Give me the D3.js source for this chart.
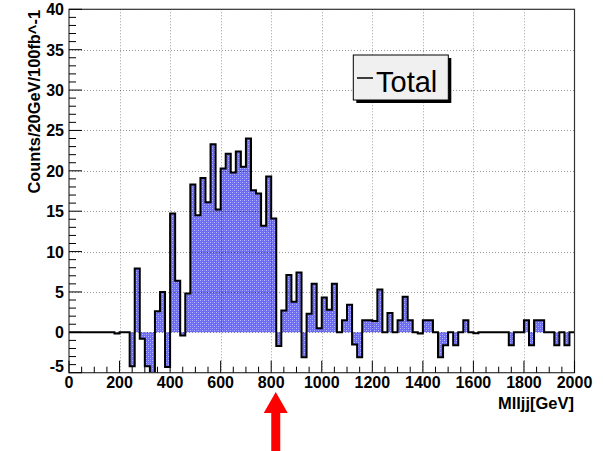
<!DOCTYPE html>
<html>
<head>
<meta charset="utf-8">
<script src="https://cdn.jsdelivr.net/npm/d3@7/dist/d3.min.js"></script>
<style>
  html, body { margin: 0; padding: 0; background: #fff; }
  svg { display: block; font-family: "Liberation Sans", Arial, sans-serif; }
</style>
</head>
<body>
<svg id="chart" width="603" height="451"></svg>
<script>
// Histogram binning: 100 bins of 20 GeV from 0 to 2000 GeV
const binStart = 0;
const binWidth = 20;
const counts = [
  0, 0, 0, 0, 0, 0, 0, 0, 0, -0.15,
  0, 0, -4.2, 7.9, -0.8, -4.2, -5.6, 2.6, 5.0, -4.3,
  14.7, 6.4, -0.4, 4.8, 18.3, 14.5, 19.1, 16.1, 23.3, 15.2,
  20.3, 22.1, 19.8, 22.4, 20.5, 24.0, 17.6, 17.2, 13.2, 19.3,
  14.1, -1.7, 2.7, 7.1, 3.8, 7.4, -3.1, 2.3, 6.0, 0.5,
  4.3, 2.8, 6.0, 0, 1.5, 3.4, -1.5, -3.1, 1.5, 1.5,
  1.4, 5.3, 0, 2.4, 0, 1.5, 4.4, 1.5, 0, -0.15,
  1.5, 1.5, 0, -3.1, -1.6, 0, -1.6, 0, 1.5, 0,
  -0.1, 0, 0, 0, 0, 0, 0, -1.6, 0, 0,
  1.5, -1.6, 1.5, 1.5, 0, 0, -1.6, 0, -1.6, 0
];

const xTicks = [0, 200, 400, 600, 800, 1000, 1200, 1400, 1600, 1800, 2000];
const yTicks = [-5, 0, 5, 10, 15, 20, 25, 30, 35, 40];
const xTitle = "Mlljj[GeV]";
const yTitle = "Counts/20GeV/100fb^-1";
const legendLabel = "Total";
const cutValue = 818; // position of the selection arrow on the mass axis

const svg = d3.select("#chart");
const frame = { left: 69, right: 574.5, top: 9.3, bottom: 372.7 };

const x = d3.scaleLinear().domain([0, 2000]).range([frame.left, frame.right]);
const y = d3.scaleLinear().domain([-5, 40]).range([frame.bottom, frame.top]);

// Dithered blue fill pattern
const defs = svg.append("defs");
const pat = defs.append("pattern")
  .attr("id", "dither").attr("patternUnits", "userSpaceOnUse")
  .attr("width", 4).attr("height", 4);
pat.append("rect").attr("width", 4).attr("height", 4).attr("fill", "#6a6af6");
pat.append("rect").attr("x", 0).attr("y", 0).attr("width", 1).attr("height", 1).attr("fill", "#b8b8ff");
pat.append("rect").attr("x", 2).attr("y", 2).attr("width", 1).attr("height", 1).attr("fill", "#b8b8ff");
pat.append("rect").attr("x", 2).attr("y", 0).attr("width", 1).attr("height", 1).attr("fill", "#8c8cfa");
pat.append("rect").attr("x", 0).attr("y", 2).attr("width", 1).attr("height", 1).attr("fill", "#8c8cfa");

defs.append("clipPath").attr("id", "frameClip")
  .append("rect").attr("x", frame.left).attr("y", frame.top)
  .attr("width", frame.right - frame.left).attr("height", frame.bottom - frame.top);

// Step points for the histogram
const pts = [];
counts.forEach((v, i) => {
  const x0 = binStart + i * binWidth;
  pts.push({ gx: x0, v: v });
  pts.push({ gx: x0 + binWidth, v: v });
});

const plot = svg.append("g").attr("clip-path", "url(#frameClip)");

plot.append("path")
  .datum(pts)
  .attr("fill", "url(#dither)")
  .attr("d", d3.area().x(d => x(d.gx)).y0(y(0)).y1(d => y(d.v)));

// Grid (dotted), drawn over the fill
const grid = svg.append("g").attr("stroke", "#000").attr("stroke-opacity", 0.4)
  .attr("stroke-width", 1).attr("stroke-dasharray", "1,2");
grid.selectAll("line.gx").data(xTicks.slice(1, -1)).join("line")
  .attr("class", "gx")
  .attr("x1", d => Math.round(x(d)) + 0.5).attr("x2", d => Math.round(x(d)) + 0.5)
  .attr("y1", frame.top).attr("y2", frame.bottom);
grid.selectAll("line.gy").data(yTicks.slice(1)).join("line")
  .attr("class", "gy")
  .attr("x1", frame.left).attr("x2", frame.right)
  .attr("y1", d => Math.round(y(d)) + 0.5).attr("y2", d => Math.round(y(d)) + 0.5);

plot.append("path")
  .datum(pts)
  .attr("fill", "none").attr("stroke", "#000").attr("stroke-width", 2)
  .attr("stroke-linejoin", "miter")
  .attr("d", d3.line().x(d => x(d.gx)).y(d => y(d.v)));

// Frame
svg.append("rect")
  .attr("x", frame.left).attr("y", frame.top)
  .attr("width", frame.right - frame.left).attr("height", frame.bottom - frame.top)
  .attr("fill", "none").attr("stroke", "#333").attr("stroke-width", 1.2);

// Y axis ticks
const yAxis = svg.append("g").attr("stroke", "#000").attr("stroke-width", 1);
d3.range(-5, 40.001, 1).forEach(v => {
  const major = v % 5 === 0;
  yAxis.append("line")
    .attr("x1", frame.left).attr("x2", frame.left + (major ? 13 : 7))
    .attr("y1", y(v)).attr("y2", y(v));
});
// X axis ticks
const xAxis = svg.append("g").attr("stroke", "#000").attr("stroke-width", 1);
d3.range(0, 2000.001, 50).forEach(v => {
  const major = v % 200 === 0;
  xAxis.append("line")
    .attr("x1", x(v)).attr("x2", x(v))
    .attr("y1", frame.bottom).attr("y2", frame.bottom - (major ? 12 : 6));
});

// Tick labels
svg.append("g").selectAll("text").data(yTicks).join("text")
  .attr("x", 64).attr("y", d => y(d) + (d === -5 ? -1 : 6))
  .attr("text-anchor", "end").attr("font-size", 16).attr("font-weight", "bold")
  .text(d => d);
svg.append("g").selectAll("text").data(xTicks).join("text")
  .attr("x", d => x(d)).attr("y", 388)
  .attr("text-anchor", "middle").attr("font-size", 16).attr("font-weight", "bold")
  .text(d => d);

// Axis titles
svg.append("text")
  .attr("x", 574).attr("y", 409)
  .attr("text-anchor", "end").attr("font-size", 16.5).attr("font-weight", "bold")
  .text(xTitle);
svg.append("text")
  .attr("transform", "translate(40,10) rotate(-90)")
  .attr("text-anchor", "end").attr("font-size", 16.4).attr("font-weight", "bold")
  .text(yTitle);

// Legend box with shadow
svg.append("rect").attr("x", 356.3).attr("y", 58).attr("width", 95).attr("height", 45).attr("fill", "#000");
svg.append("rect").attr("x", 353.3).attr("y", 55).attr("width", 95).attr("height", 45)
  .attr("fill", "#f0f0f0").attr("stroke", "#000").attr("stroke-width", 1);
svg.append("line").attr("x1", 357).attr("x2", 373).attr("y1", 78).attr("y2", 78)
  .attr("stroke", "#000").attr("stroke-width", 1.5);
svg.append("text").attr("x", 376).attr("y", 92).attr("font-size", 29).text(legendLabel);

// Red arrow pointing at the cut value
const ax = x(cutValue);
svg.append("path")
  .attr("d", `M${ax},392 L${ax + 12},413 L${ax + 4.5},413 L${ax + 4.5},451 L${ax - 4.5},451 L${ax - 4.5},413 L${ax - 12},413 Z`)
  .attr("fill", "#ff0000");
</script>
</body>
</html>
